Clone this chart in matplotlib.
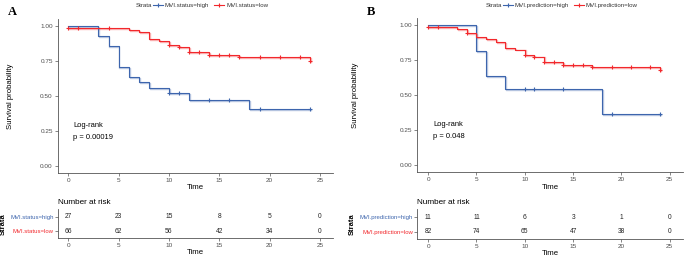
import numpy as np
import matplotlib.pyplot as plt
import matplotlib.transforms as mtransforms
from matplotlib.lines import Line2D

plt.rcParams['font.family'] = ['Liberation Sans', 'DejaVu Sans']

BLUE = '#3D65AD'
RED = '#F2282C'
GREY = '#4d4d4d'

# panel A : MVI status
a_high_t = [0, 3, 4, 5, 6, 7, 8, 10, 12, 18, 24]
a_high_s = [1.0, 0.926, 0.852, 0.704, 0.633, 0.596, 0.558, 0.522, 0.472, 0.402, 0.402]
a_high_cens = [10, 11, 14, 16, 19, 24]
a_low_t = [0, 6, 7, 8, 9, 10, 11, 12, 14, 17, 24]
a_low_s = [0.985, 0.97, 0.953, 0.908, 0.893, 0.86, 0.846, 0.81, 0.79, 0.774, 0.746]
a_low_cens = [0, 1, 4, 10, 11, 12, 13, 14, 15, 16, 17, 19, 21, 23, 24]

# panel B : MVI prediction
b_high_t = [0, 5, 6, 8, 18, 24]
b_high_s = [1.0, 0.818, 0.636, 0.545, 0.364, 0.364]
b_high_cens = [10, 11, 14, 19, 24]
b_low_t = [0, 3, 4, 5, 6, 7, 8, 9, 10, 11, 12, 14, 17, 24]
b_low_s = [0.988, 0.97, 0.946, 0.915, 0.904, 0.878, 0.84, 0.826, 0.79, 0.776, 0.74, 0.717, 0.702, 0.68]
b_low_cens = [0, 1, 4, 10, 11, 12, 13, 14, 15, 16, 17, 19, 21, 23, 24]

risk_times = [0, 5, 10, 15, 20, 25]
a_risk_high = [27, 23, 15, 8, 5, 0]
a_risk_low = [66, 62, 56, 42, 34, 0]
b_risk_high = [11, 11, 6, 3, 1, 0]
b_risk_low = [82, 74, 65, 47, 38, 0]

a_names = ['MVI.status=high', 'MVI.status=low']
b_names = ['MVI.prediction=high', 'MVI.prediction=low']


def style_axis(ax):
    for s in ['top', 'right']:
        ax.spines[s].set_visible(False)
    for s in ['left', 'bottom']:
        ax.spines[s].set_color('#555555')
        ax.spines[s].set_linewidth(0.6)
    ax.tick_params(length=2, width=0.5, color='#555555', labelsize=4.6,
                   labelcolor=GREY, pad=1.5)


def km_curve(ax, fig, t, s, cens, color):
    shadow = ax.transData + mtransforms.ScaledTranslation(0.9 / 100, -0.9 / 100, fig.dpi_scale_trans)
    ax.step(t, s, where='post', color=color, lw=1.0, alpha=0.35, transform=shadow, zorder=2)
    ax.step(t, s, where='post', color=color, lw=0.8, zorder=3)
    idx = np.searchsorted(t, cens, side='right') - 1
    ax.plot(cens, np.array(s)[idx], ls='none', marker='+', ms=3.5, mew=0.8,
            color=color, zorder=4)


def panel(fig, main_rect, risk_rect, xlim, high, low, names, risk_high, risk_low,
          pval, letter, ylab_x, strata_x, leg_x):
    ax = fig.add_axes(main_rect)
    style_axis(ax)
    km_curve(ax, fig, *high, BLUE)
    km_curve(ax, fig, *low, RED)
    ax.set_xlim(*xlim)
    ax.set_ylim(-0.052, 1.05)
    ax.set_xticks(risk_times)
    ax.set_yticks([0, 0.25, 0.5, 0.75, 1.0])
    ax.set_yticklabels(['0.00', '0.25', '0.50', '0.75', '1.00'])
    ax.set_xlabel('Time', fontsize=5.6, labelpad=1)
    ax.set_ylabel('Survival probability', fontsize=5.6)
    ax.yaxis.set_label_coords(ylab_x, 0.5)
    ax.text(0.5, 0.29, 'Log-rank', fontsize=5.4, va='center')
    ax.text(0.5, 0.202, 'p = ' + pval, fontsize=5.4, va='center')

    handles = [Line2D([], [], color=BLUE, lw=0.8, marker='+', ms=3, mew=0.8),
               Line2D([], [], color=RED, lw=0.8, marker='+', ms=3, mew=0.8)]
    fig.text(leg_x - 17 / 685, 1 - 5.5 / 257, 'Strata', fontsize=4.4, va='center', color='#333333')
    fig.legend(handles, names, loc='center left', bbox_to_anchor=(leg_x, 1 - 5.5 / 257),
               ncol=2, frameon=False, fontsize=4.4, handlelength=1.6, handletextpad=0.3,
               columnspacing=0.9, borderpad=0, borderaxespad=0, labelcolor='#333333')

    fig.text(main_rect[0] - 0.073, 0.955, letter, fontsize=9, fontweight='bold',
             family='Liberation Serif', va='center')

    rx = fig.add_axes(risk_rect)
    style_axis(rx)
    rx.set_xlim(*xlim)
    rx.set_ylim(-0.52, 1.57)
    for x, h, l in zip(risk_times, risk_high, risk_low):
        rx.text(x, 1, str(h), ha='center', va='center', fontsize=4.8, color='#222222')
        rx.text(x, 0, str(l), ha='center', va='center', fontsize=4.8, color='#222222')
    rx.set_xticks(risk_times)
    rx.set_yticks([1, 0])
    rx.set_yticklabels(names)
    rx.tick_params(axis='y', pad=1)
    for lab, c in zip(rx.get_yticklabels(), [BLUE, RED]):
        lab.set_color(c)
        lab.set_fontsize(4.35)
    rx.set_xlabel('Time', fontsize=5.6, labelpad=0.5)
    rx.set_ylabel('Strata', fontsize=5.4, fontweight='bold')
    rx.yaxis.set_label_coords(strata_x, 0.5)
    fig.text(main_rect[0], 1 - 202 / 257, 'Number at risk', fontsize=5.9, va='center')


fig = plt.figure(figsize=(6.85, 2.57), dpi=100)

panel(fig, [0.0842, 0.327, 0.402, 0.600], [0.0842, 0.0728, 0.402, 0.114], (-1.05, 26.3),
      (a_high_t, a_high_s, a_high_cens), (a_low_t, a_low_s, a_low_cens), a_names,
      a_risk_high, a_risk_low, '0.00019', 'A', -0.159, -0.184, 153 / 685)
panel(fig, [0.609, 0.329, 0.3885, 0.600], [0.609, 0.070, 0.3885, 0.117], (-1.14, 26.4),
      (b_high_t, b_high_s, b_high_cens), (b_low_t, b_low_s, b_low_cens), b_names,
      b_risk_high, b_risk_low, '0.048', 'B', -0.219, -0.232, 503 / 685)

fig.savefig('out.png', dpi=100)
